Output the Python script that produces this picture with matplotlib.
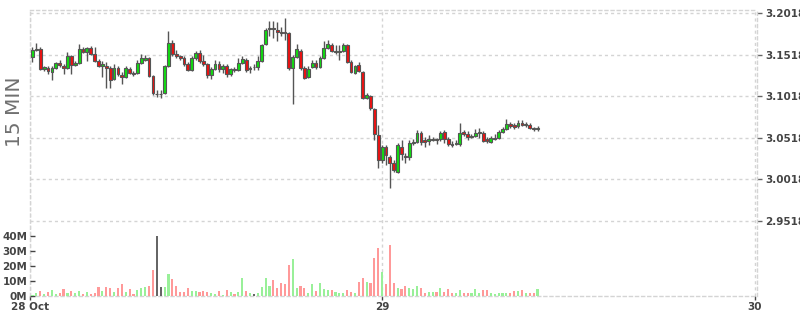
import matplotlib
matplotlib.use('Agg')
import matplotlib.pyplot as plt
import matplotlib.dates as mdates
import pandas as pd

# ---------------- data ----------------
start_time = '2018-10-28 01:30'
opens = [3.149, 3.158, 3.159, 3.135, 3.136, 3.131, 3.136, 3.142, 3.138, 3.136,
         3.150, 3.139, 3.142, 3.159, 3.155, 3.160, 3.153, 3.144, 3.138, 3.138,
         3.136, 3.123, 3.136, 3.127, 3.125, 3.135, 3.130, 3.130, 3.142, 3.146,
         3.148, 3.126, 3.105, 3.105, 3.106, 3.138, 3.166, 3.153, 3.150, 3.148,
         3.141, 3.133, 3.148, 3.154, 3.144, 3.141, 3.127, 3.135, 3.141, 3.135,
         3.138, 3.129, 3.135, 3.133, 3.142, 3.146, 3.135, 3.137, 3.137, 3.144,
         3.165, 3.183, 3.184, 3.182, 3.179, 3.179, 3.178, 3.136, 3.149, 3.156,
         3.136, 3.125, 3.137, 3.142, 3.137, 3.148, 3.160, 3.164, 3.155, 3.155,
         3.156, 3.164, 3.143, 3.130, 3.139, 3.131, 3.100, 3.102, 3.086, 3.055,
         3.025, 3.041, 3.029, 3.021, 3.011, 3.041, 3.030, 3.029, 3.045, 3.047,
         3.057, 3.049, 3.048, 3.049, 3.050, 3.050, 3.059, 3.050, 3.044, 3.044,
         3.044, 3.059, 3.056, 3.053, 3.054, 3.057, 3.057, 3.050, 3.047, 3.050,
         3.052, 3.059, 3.062, 3.068, 3.067, 3.066, 3.070, 3.067, 3.067, 3.064,
         3.062]
highs = [3.161, 3.166, 3.161, 3.138, 3.138, 3.138, 3.143, 3.146, 3.141, 3.155,
         3.152, 3.144, 3.165, 3.161, 3.161, 3.162, 3.161, 3.147, 3.144, 3.143,
         3.138, 3.141, 3.138, 3.131, 3.138, 3.137, 3.132, 3.146, 3.153, 3.152,
         3.149, 3.127, 3.109, 3.109, 3.139, 3.180, 3.170, 3.158, 3.152, 3.150,
         3.143, 3.150, 3.156, 3.158, 3.152, 3.142, 3.137, 3.146, 3.144, 3.141,
         3.141, 3.136, 3.137, 3.148, 3.150, 3.148, 3.138, 3.141, 3.150, 3.165,
         3.184, 3.193, 3.193, 3.191, 3.185, 3.196, 3.179, 3.152, 3.165, 3.159,
         3.138, 3.138, 3.146, 3.146, 3.150, 3.168, 3.170, 3.166, 3.164, 3.164,
         3.166, 3.165, 3.146, 3.139, 3.143, 3.132, 3.106, 3.103, 3.088, 3.067,
         3.043, 3.043, 3.031, 3.025, 3.045, 3.049, 3.033, 3.049, 3.050, 3.061,
         3.060, 3.053, 3.055, 3.053, 3.052, 3.060, 3.061, 3.053, 3.048, 3.049,
         3.070, 3.061, 3.060, 3.056, 3.062, 3.064, 3.060, 3.053, 3.054, 3.056,
         3.061, 3.065, 3.074, 3.071, 3.070, 3.073, 3.073, 3.071, 3.070, 3.065,
         3.066]
lows = [3.143, 3.156, 3.133, 3.132, 3.129, 3.121, 3.135, 3.137, 3.129, 3.135,
        3.129, 3.138, 3.141, 3.154, 3.144, 3.152, 3.143, 3.137, 3.125, 3.112,
        3.112, 3.121, 3.126, 3.117, 3.124, 3.129, 3.126, 3.129, 3.141, 3.144,
        3.125, 3.103, 3.101, 3.100, 3.105, 3.137, 3.150, 3.148, 3.146, 3.138,
        3.132, 3.132, 3.146, 3.142, 3.138, 3.124, 3.123, 3.133, 3.131, 3.130,
        3.125, 3.126, 3.131, 3.132, 3.141, 3.131, 3.130, 3.133, 3.133, 3.143,
        3.164, 3.174, 3.172, 3.168, 3.174, 3.170, 3.133, 3.093, 3.148, 3.133,
        3.123, 3.124, 3.136, 3.135, 3.136, 3.147, 3.159, 3.155, 3.153, 3.146,
        3.155, 3.142, 3.130, 3.129, 3.131, 3.099, 3.099, 3.085, 3.049, 3.015,
        3.021, 3.019, 2.991, 3.011, 3.010, 3.025, 3.021, 3.025, 3.043, 3.045,
        3.043, 3.041, 3.043, 3.048, 3.044, 3.048, 3.045, 3.042, 3.041, 3.043,
        3.042, 3.054, 3.049, 3.052, 3.053, 3.052, 3.047, 3.045, 3.045, 3.049,
        3.050, 3.057, 3.061, 3.064, 3.062, 3.064, 3.066, 3.065, 3.062, 3.060,
        3.060]
closes = [3.158, 3.159, 3.135, 3.137, 3.132, 3.136, 3.142, 3.139, 3.136, 3.150,
          3.139, 3.142, 3.159, 3.155, 3.160, 3.153, 3.144, 3.138, 3.141, 3.136,
          3.121, 3.136, 3.129, 3.125, 3.136, 3.130, 3.129, 3.142, 3.148, 3.148,
          3.126, 3.106, 3.105, 3.105, 3.138, 3.166, 3.153, 3.150, 3.148, 3.141,
          3.133, 3.148, 3.154, 3.144, 3.141, 3.127, 3.135, 3.141, 3.135, 3.138,
          3.129, 3.135, 3.133, 3.142, 3.147, 3.133, 3.136, 3.137, 3.144, 3.164,
          3.182, 3.184, 3.183, 3.179, 3.178, 3.178, 3.136, 3.149, 3.159, 3.136,
          3.124, 3.135, 3.142, 3.137, 3.148, 3.160, 3.165, 3.156, 3.156, 3.156,
          3.164, 3.143, 3.131, 3.138, 3.132, 3.100, 3.103, 3.088, 3.056, 3.025,
          3.041, 3.031, 3.021, 3.013, 3.043, 3.032, 3.029, 3.045, 3.047, 3.057,
          3.047, 3.047, 3.050, 3.050, 3.049, 3.057, 3.050, 3.044, 3.043, 3.045,
          3.057, 3.056, 3.053, 3.054, 3.057, 3.059, 3.048, 3.048, 3.052, 3.052,
          3.059, 3.062, 3.068, 3.066, 3.065, 3.070, 3.067, 3.068, 3.064, 3.062,
          3.064]
volumes_m = [0.5, 2.2, 3.5, 1.3, 2.9, 4.0, 1.3, 2.2, 4.6, 2.2,
             3.5, 2.2, 3.3, 1.3, 2.9, 1.3, 2.2, 5.8, 3.5, 5.8,
             5.1, 2.9, 5.1, 8.0, 2.9, 4.6, 1.3, 4.0, 5.1, 5.8,
             6.6, 17.3, 39.8, 5.8, 5.8, 14.4, 11.1, 6.6, 2.9, 2.9,
             5.1, 3.3, 3.3, 2.9, 3.3, 2.9, 1.8, 1.3, 3.5, 0.7,
             4.0, 2.9, 1.3, 2.9, 11.7, 3.3, 2.2, 1.3, 1.8, 5.8,
             11.7, 6.6, 10.4, 5.5, 8.4, 7.7, 20.4, 24.3, 5.5, 6.6,
             5.5, 2.2, 7.7, 3.3, 8.4, 4.4, 3.8, 3.8, 2.9, 1.8,
             1.8, 3.8, 2.9, 2.2, 9.3, 11.7, 9.3, 8.4, 25.0, 31.6,
             15.9, 7.7, 33.6, 8.4, 5.1, 4.4, 6.6, 5.1, 4.4, 6.6,
             5.5, 1.8, 2.9, 2.9, 2.9, 5.5, 2.9, 4.4, 2.2, 2.2,
             3.8, 1.8, 2.2, 1.8, 4.9, 2.2, 3.8, 3.8, 2.2, 1.1,
             2.2, 1.8, 1.8, 1.8, 3.3, 3.3, 3.8, 1.8, 2.2, 1.8,
             4.4]
price_ticks = [3.2018, 3.1518, 3.1018, 3.0518, 3.0018, 2.9518]
volume_ticks_m = [0, 10, 20, 30, 40]
day_ticks = ['2018-10-29', '2018-10-30']
day_labels = ['28 Oct', '29', '30']
side_label = '15 MIN'

# ---------------- styles ----------------
C_UP, C_DN, C_EDGE = '#11dd11', '#ee1111', '#555555'
V_UP, V_DN, V_FLAT = '#99f099', '#ff9999', '#666666'
GRID = '#d4d4d4'
TXT = '#444444'
DASH = (0, (2.2, 2.2))

times = pd.date_range(start_time, periods=len(opens), freq='15min')
x = mdates.date2num(times)
step = 15 / (24 * 60)

fig = plt.figure(figsize=(8, 3.15), dpi=100)
rect = [30 / 800, 19 / 315, 727 / 800, 286 / 315]
ax = fig.add_axes(rect)
axv = fig.add_axes(rect, sharex=ax)
axv.patch.set_alpha(0)

# candles
up = [c > o for o, c in zip(opens, closes)]
ax.vlines(x, lows, highs, color=C_EDGE, linewidth=1.0, zorder=2)
bottoms = [min(o, c) for o, c in zip(opens, closes)]
heights = [abs(c - o) for o, c in zip(opens, closes)]
ax.bar(x, heights, bottom=bottoms, width=step * 0.72,
       color=[C_UP if u else C_DN for u in up], edgecolor=C_EDGE,
       linewidth=0.8, zorder=3)

# volumes
vcols = [V_UP if c > o else (V_DN if c < o else V_FLAT) for o, c in zip(opens, closes)]
axv.bar(x, volumes_m, width=step * 0.55, color=vcols, linewidth=0, zorder=2)

# axes ranges
xl = x[0] - 0.64 * step
xr = mdates.date2num(pd.Timestamp(day_ticks[-1])) + 0.5 * step
ax.set_xlim(xl, xr)
ax.set_ylim(2.8612, 3.2058)
axv.set_ylim(0, 189.7)

# price axis (right)
ax.yaxis.tick_right()
ax.set_yticks(price_ticks)
ax.set_yticklabels([f'{v:.4f}' for v in price_ticks])
ax.tick_params(axis='y', direction='out', length=3.5, width=1, color='#666666',
               pad=2.5, labelsize=7.5, labelcolor=TXT)

# x axis
xt = [xl] + [mdates.date2num(pd.Timestamp(d)) for d in day_ticks]
ax.set_xticks(xt)
ax.set_xticklabels(day_labels)
ax.tick_params(axis='x', direction='out', length=3, width=1, color='#444444',
               pad=1.5, labelsize=7.5, labelcolor=TXT)
for lab in ax.get_xticklabels() + ax.get_yticklabels():
    lab.set_fontweight('bold')

ax.grid(True, color=GRID, linestyle=DASH, linewidth=1)
ax.set_axisbelow(True)
for s in ax.spines.values():
    s.set_color(GRID)
    s.set_linestyle(DASH)
    s.set_linewidth(1)

# volume axis (left)
axv.yaxis.tick_left()
axv.set_yticks(volume_ticks_m)
axv.set_yticklabels([f'{v}M' for v in volume_ticks_m])
axv.tick_params(axis='y', direction='in', length=3.5, width=1, color='#444444',
                pad=2, labelsize=7.5, labelcolor=TXT)
for lab in axv.get_yticklabels():
    lab.set_fontweight('bold')
axv.tick_params(axis='x', bottom=False, labelbottom=False)
for s in axv.spines.values():
    s.set_visible(False)

fig.text(15 / 800, 1 - 112 / 315, side_label, rotation=90, ha='center',
         va='center', fontsize=14.5, color='#707070')

fig.savefig('out.png', dpi=100)
